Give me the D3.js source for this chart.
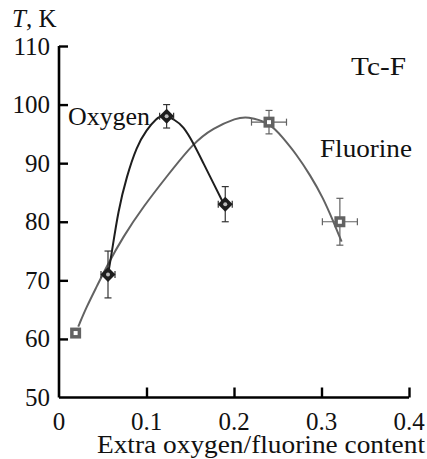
<!DOCTYPE html>
<html>
<head>
<meta charset="utf-8">
<script src="https://cdn.jsdelivr.net/npm/d3@7"></script>
<style>
  html, body { margin: 0; padding: 0; background: #fff; }
  #chart text { font-family: "Liberation Serif", "Times New Roman", Times, Tinos, "Noto Serif", "DejaVu Serif", serif; }
</style>
</head>
<body>
<svg id="chart" width="427" height="459"></svg>
<script>
// Measured points: extra content x, Tc, and error half-widths
const oxygenX    = [0.056, 0.123, 0.190];
const oxygenT    = [71, 98, 83];
const oxygenErrT = [4, 2, 3];
const oxygenErrX = [0.008, 0.008, 0.008];

const fluorineX    = [0.019, 0.240, 0.321];
const fluorineT    = [61, 97, 80];
const fluorineErrT = [0, 2, 4];
const fluorineErrX = [0, 0.02, 0.02];

// Guide-to-the-eye curves
const oxygenFitX = [0.0564, 0.0602, 0.0678, 0.0773, 0.0888, 0.100, 0.1116, 0.119, 0.1326, 0.142, 0.1535, 0.165, 0.1764, 0.1878];
const oxygenFitT = [71.3, 74.6, 82.0, 87.7, 92.9, 95.7, 97.7, 98.3, 97.4, 96.3, 93.45, 90.0, 86.6, 83.2];

const fluorineFitX = [0.022, 0.0316, 0.043, 0.0545, 0.0735, 0.0964, 0.123, 0.1535, 0.176, 0.203, 0.2145, 0.241, 0.256, 0.2716, 0.2869, 0.302, 0.3135, 0.323];
const fluorineFitT = [62.1, 65.5, 68.9, 72.4, 77.5, 82.6, 87.7, 93.45, 96.0, 97.7, 98.0, 96.9, 94.3, 91.45, 88.0, 84.05, 80.05, 76.6];

const xTicks = [0, 0.1, 0.2, 0.3, 0.4];
const yTicks = [50, 60, 70, 80, 90, 100, 110];

const FS = 25;

const svg = d3.select("#chart");
const x = d3.scaleLinear().domain([0, 0.4]).range([59, 409]);
const y = d3.scaleLinear().domain([50, 110]).range([397.5, 46]);

const darkCol = "#1e1e1e";
const grayCol = "#626262";

function label(sel) {
  return sel.attr("font-size", FS).attr("fill", "#111");
}

// Axes
const axisG = svg.append("g");
const yAxis = d3.axisRight(y).tickValues(yTicks).tickSize(9).tickFormat("");
const xAxis = d3.axisTop(x).tickValues(xTicks).tickSize(10).tickFormat("");
const ya = axisG.append("g").attr("transform", `translate(${x(0)},0)`).call(yAxis);
const xa = axisG.append("g").attr("transform", `translate(0,${y(50)})`).call(xAxis);
[ya, xa].forEach(g => {
  g.select(".domain").attr("stroke", "#000").attr("stroke-width", 2.6);
  g.selectAll(".tick line").attr("stroke", "#000").attr("stroke-width", 2.4);
});
ya.select(".domain").attr("d", `M0,${y(110)}V${y(50)}`);
xa.select(".domain").attr("d", `M${x(0)},0H${x(0.4)}`);
// The 0 tick on x and 50 tick on y coincide with the axes
xa.selectAll(".tick").filter(d => d === 0).remove();
ya.selectAll(".tick").filter(d => d === 50).remove();

// Tick labels
svg.append("g").selectAll("text").data(yTicks).join("text")
  .call(label)
  .attr("x", 50).attr("y", d => y(d) + 8.5)
  .attr("text-anchor", "end")
  .text(d => d);
svg.append("g").selectAll("text").data(xTicks).join("text")
  .call(label)
  .attr("x", d => x(d)).attr("y", 430)
  .attr("text-anchor", "middle")
  .text(d => d === 0 ? "0" : d3.format(".1f")(d));

// Axis titles
const yt = svg.append("text").call(label).attr("x", 12).attr("y", 27);
yt.append("tspan").attr("font-style", "italic").text("T");
yt.append("tspan").text(", K");
svg.append("text").call(label).attr("x", 97).attr("y", 453)
  .attr("textLength", 328).attr("lengthAdjust", "spacingAndGlyphs")
  .text("Extra oxygen/fluorine content");

// Curves
const line = d3.line().x(d => x(d[0])).y(d => y(d[1])).curve(d3.curveBasis);
svg.append("path").datum(d3.zip(fluorineFitX, fluorineFitT))
  .attr("d", line).attr("fill", "none").attr("stroke", grayCol).attr("stroke-width", 2);
svg.append("path").datum(d3.zip(oxygenFitX, oxygenFitT))
  .attr("d", line).attr("fill", "none").attr("stroke", darkCol).attr("stroke-width", 2);

// Error bars
function errorBars(xs, ts, ex, et, col) {
  const g = svg.append("g").attr("stroke", col).attr("stroke-width", 1.2).attr("fill", "none");
  xs.forEach((xv, i) => {
    const cx = x(xv), cy = y(ts[i]);
    if (et[i] > 0) {
      const y0 = y(ts[i] - et[i]), y1 = y(ts[i] + et[i]);
      g.append("line").attr("x1", cx).attr("x2", cx).attr("y1", y0).attr("y2", y1);
      g.append("line").attr("x1", cx - 3.5).attr("x2", cx + 3.5).attr("y1", y0).attr("y2", y0);
      g.append("line").attr("x1", cx - 3.5).attr("x2", cx + 3.5).attr("y1", y1).attr("y2", y1);
    }
    if (ex[i] > 0) {
      const x0 = x(xv - ex[i]), x1 = x(xv + ex[i]);
      g.append("line").attr("x1", x0).attr("x2", x1).attr("y1", cy).attr("y2", cy);
      g.append("line").attr("x1", x0).attr("x2", x0).attr("y1", cy - 3.5).attr("y2", cy + 3.5);
      g.append("line").attr("x1", x1).attr("x2", x1).attr("y1", cy - 3.5).attr("y2", cy + 3.5);
    }
  });
}
errorBars(fluorineX, fluorineT, fluorineErrX, fluorineErrT, grayCol);
errorBars(oxygenX, oxygenT, oxygenErrX, oxygenErrT, "#333");

// Markers: filled square / diamond with a small light centre
const fPts = d3.zip(fluorineX, fluorineT);
const fm = svg.append("g").selectAll("g").data(fPts).join("g")
  .attr("transform", d => `translate(${x(d[0])},${y(d[1])})`);
fm.append("rect").attr("x", -5.5).attr("y", -5.5).attr("width", 11).attr("height", 11)
  .attr("fill", grayCol);
fm.append("rect").attr("x", -2).attr("y", -2).attr("width", 4).attr("height", 4)
  .attr("fill", "#fff");

const oPts = d3.zip(oxygenX, oxygenT);
const om = svg.append("g").selectAll("g").data(oPts).join("g")
  .attr("transform", d => `translate(${x(d[0])},${y(d[1])})`);
om.append("path").attr("d", "M0,-7.5L7.5,0L0,7.5L-7.5,0Z").attr("fill", darkCol);
om.append("circle").attr("r", 2).attr("fill", "#bbb");

// Labels
svg.append("text").call(label).attr("x", 68).attr("y", 125)
  .attr("textLength", 82).attr("lengthAdjust", "spacingAndGlyphs").text("Oxygen");
svg.append("text").call(label).attr("x", 320).attr("y", 157)
  .attr("textLength", 92).attr("lengthAdjust", "spacingAndGlyphs").text("Fluorine");
svg.append("text").call(label).attr("x", 351).attr("y", 75)
  .attr("textLength", 55).attr("lengthAdjust", "spacingAndGlyphs").text("Tc-F");
</script>
</body>
</html>
